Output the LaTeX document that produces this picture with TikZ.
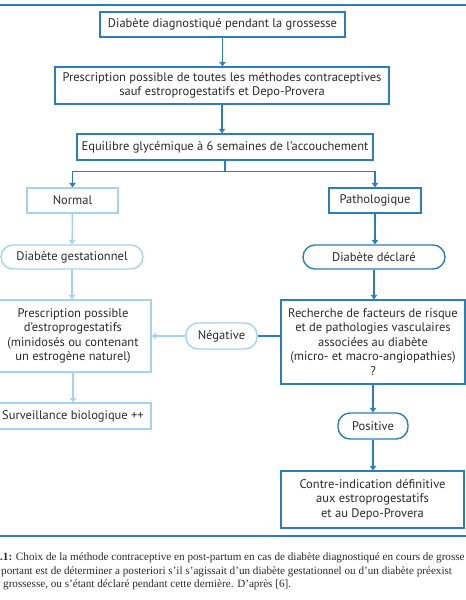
\documentclass[tikz,border=0pt]{standalone}
\usepackage{fontspec}
\setmainfont{PT Sans}
\newfontfamily\capfont{Liberation Serif}
\usetikzlibrary{positioning,arrows.meta}
\definecolor{darkblue}{HTML}{2C7DB8}
\definecolor{lightblue}{HTML}{A4D3EE}
\definecolor{inktext}{HTML}{2A2A2A}

\begin{document}
\begin{tikzpicture}[x=1pt, y=-1pt,
  box/.style={draw=darkblue, line width=1.4pt, align=center, inner sep=1pt, text=inktext,
    font=\fontsize{12.5}{14.6}\selectfont},
  lightbox/.style={box, draw=lightblue},
  pill/.style={box, rounded corners=12pt},
  lightpill/.style={pill, draw=lightblue},
  arr/.style={-{Triangle[width=6.5pt,length=4.5pt]}, line width=1.4pt, draw=darkblue},
  lightarr/.style={arr, draw=lightblue},
  captext/.style={anchor=west, inner sep=0pt, text=inktext, font=\capfont\fontsize{11.15}{13}\selectfont}]
  \useasboundingbox (0,0) rectangle (466,600);
  \clip (0,0) rectangle (466,600);

  % Rules above and below the chart
  \draw[darkblue, line width=2pt] (0,5) -- (466,5);
  \draw[darkblue, line width=2pt] (0,536) -- (466,536);

  % Common trunk
  \node[box, minimum width=245pt, minimum height=25pt] (diag) at (222.5, 24.5)
    {Diabète diagnostiqué pendant la grossesse};
  \node[box, minimum width=334pt, minimum height=37pt] (presc) at (222, 85.5)
    {Prescription possible de toutes les méthodes contraceptives\\
     sauf estroprogestatifs et Depo-Provera};
  \node[box, minimum width=296pt, minimum height=26pt] (equil) at (225, 147)
    {Equilibre glycémique à 6 semaines de l’accouchement};

  % Normal branch
  \node[lightbox, minimum width=91pt, minimum height=25pt] (normal) at (72.5, 200.5) {Normal};
  \node[lightpill, minimum width=142pt, minimum height=24pt] (gest) at (72, 257) {Diabète gestationnel};
  \node[lightbox, minimum width=156pt, minimum height=72pt] (estro) at (73, 336)
    {Prescription possible\\ d’estroprogestatifs\\ (minidosés ou contenant\\ un estrogène naturel)};
  \node[lightbox, minimum width=156pt, minimum height=26pt] (surv) at (73, 416)
    {Surveillance biologique ++};

  % Pathologique branch
  \node[box, minimum width=92pt, minimum height=25pt] (patho) at (375, 200.5) {Pathologique};
  \node[pill, minimum width=142pt, minimum height=24pt] (decl) at (374, 257) {Diabète déclaré};
  \node[box, minimum width=184pt, minimum height=84pt] (rech) at (373, 342)
    {Recherche de facteurs de risque\\ et de pathologies vasculaires\\ associées au diabète\\
     (micro- et macro-angiopathies)\\ ?};
  \node[lightpill, minimum width=71pt, minimum height=26pt] (neg) at (221.5, 336) {Négative};
  \node[pill, minimum width=70pt, minimum height=26pt] (pos) at (373, 426) {Positive};
  \node[box, minimum width=183pt, minimum height=57pt] (contre) at (372.5, 499.5)
    {Contre-indication définitive\\ aux estroprogestatifs\\ et au Depo-Provera};

  % Connections
  \draw[arr] (diag.south) -- (diag.south |- presc.north);
  \draw[arr] (presc.south) -- (presc.south |- equil.north);
  \draw[darkblue, line width=1.4pt] (equil.south) -- ++(0,11) coordinate (fork);
  \draw[arr] (fork) -| (normal.north);
  \draw[arr] (fork) -| (patho.north);

  \draw[lightarr] (normal) -- (gest);
  \draw[lightarr] (gest.south) -- (gest.south |- estro.north);
  \draw[lightarr] (estro.south) -- (estro.south |- surv.north);

  \draw[arr] (patho.south) -- (patho.south |- decl.north);
  \draw[arr] (decl.south) -- (decl.south |- rech.north);
  \draw[darkblue, line width=1.4pt] (rech.west |- neg.east) -- (neg.east);
  \draw[lightarr] (neg.west) -- (neg.west -| estro.east);
  \draw[arr] (rech.south -| pos.north) -- (pos.north);
  \draw[arr] (pos.south) -- (pos.south |- contre.north);

  % Caption
  \node[captext] (cap1) at (0, 558) {\textbf{.1:} Choix de la méthode contraceptive en post-partum en cas de diabète diagnostiqué en cours de grosse};
  \node[captext] (cap2) at (1, 572) {portant est de déterminer a posteriori s’il s’agissait d’un diabète gestationnel ou d’un diabète préexist};
  \node[captext] (cap3) at (3, 585) {grossesse, ou s’étant déclaré pendant cette dernière. D’après [6].};
\end{tikzpicture}
\end{document}
